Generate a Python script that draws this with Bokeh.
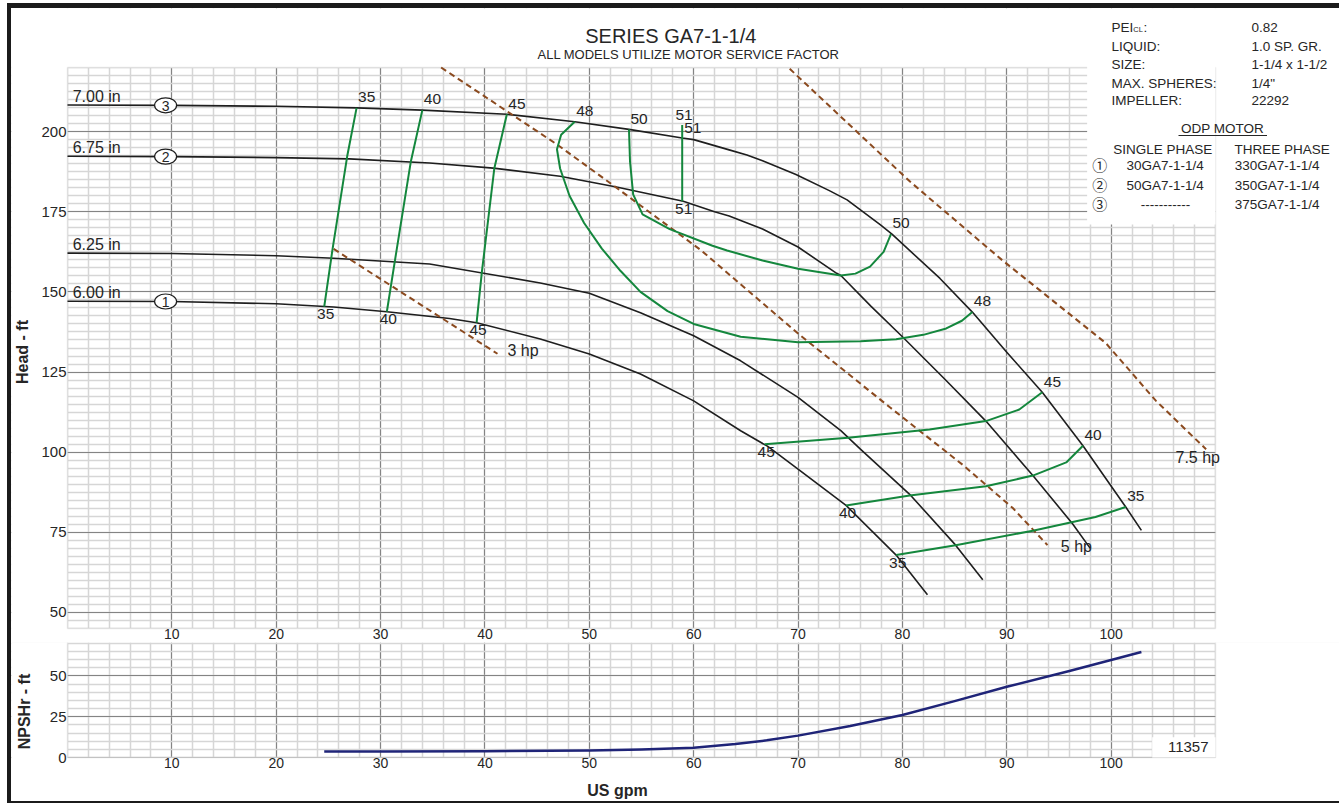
import numpy as np
from bokeh.plotting import figure
from bokeh.models import (FixedTicker, BoxAnnotation, Range1d, Div, Spacer)
from bokeh.layouts import column, row
from bokeh.embed import file_html
from bokeh.resources import INLINE
from bokeh.core.properties import value

FONT = "Liberation Sans"
CJK = "Noto Sans CJK JP"

# ---------------- data ----------------
x_ticks = [10, 20, 30, 40, 50, 60, 70, 80, 90, 100]
head_ticks = [50, 75, 100, 125, 150, 175, 200]
npsh_ticks = [0, 25, 50]

diam_labels = ["7.00 in", "6.75 in", "6.25 in", "6.00 in"]
diam_marks = ["3", "2", None, "1"]

gpm_700 = [0, 10, 20, 27.7, 34.0, 42.1, 48.6, 53.8, 58.9, 60.0, 63.4, 65.1, 66.6, 69.8,
           73.0, 74.7, 77.9, 79.0, 83.6, 86.7, 90.0, 93.4, 97.3, 101.4, 102.9]
head_700 = [208.3, 208.2, 207.9, 207.4, 206.7, 205.4, 203.1, 200.7, 198.0, 197.5, 194.3,
            192.7, 190.9, 186.6, 181.6, 178.7, 170.9, 168.0, 154.2, 143.7, 131.2, 118.7,
            102.0, 82.9, 75.6]
gpm_675 = [0, 10, 20, 27.0, 34.7, 40.8, 47.2, 52.6, 59.0, 62.0, 63.4, 66.6, 70.0, 73.7,
           74.1, 77.0, 80.0, 84.0, 88.0, 92.5, 96.3, 98.0]
head_675 = [192.3, 192.2, 191.9, 191.5, 190.2, 188.6, 186.1, 182.7, 178.3, 175.0, 173.7,
            169.6, 164.0, 155.8, 155.1, 145.5, 136.0, 123.0, 109.7, 92.7, 77.7, 70.0]
gpm_625 = [0, 10, 20, 25.5, 34.7, 45.3, 50.0, 54.9, 60.0, 64.5, 70.0, 74.1, 76.0, 80.8,
           85.1, 87.7]
head_625 = [162.1, 162.0, 161.3, 160.5, 158.7, 152.8, 149.6, 143.5, 136.3, 128.5, 117.1,
            106.7, 100.9, 86.5, 71.0, 60.2]
gpm_600 = [0, 10, 20, 25.5, 30.6, 36.6, 39.2, 45.3, 50.0, 54.9, 60.0, 64.5, 67.1, 70.0,
           74.6, 79.4, 82.4]
head_600 = [147.1, 147.0, 146.3, 145.3, 143.8, 141.7, 140.4, 135.3, 130.6, 124.4, 116.0,
            106.7, 101.8, 94.7, 83.4, 67.9, 55.5]

# efficiency contours (%)
eff35a_gpm = [24.6, 25.4, 26.8, 27.7]
eff35a_head = [145.4, 163.4, 192.3, 207.4]
eff40a_gpm = [30.6, 31.4, 32.9, 34.0]
eff40a_head = [143.8, 160.3, 190.7, 206.7]
eff45a_gpm = [39.2, 39.7, 40.9, 42.1]
eff45a_head = [140.4, 156.1, 188.6, 205.4]
eff48_gpm = [48.6, 47.3, 46.9, 47.2, 48.1, 49.5, 51.2, 53.0, 54.9, 57.5, 60.0, 64.5, 70.0,
             76.0, 79.4, 82.0, 84.2, 85.7, 86.7]
eff48_head = [203.1, 199.0, 194.5, 188.5, 180.0, 171.5, 163.5, 156.5, 150.0, 144.0, 140.0,
              136.0, 134.3, 134.6, 135.2, 136.6, 138.6, 141.0, 143.7]
eff50_gpm = [53.8, 53.9, 54.2, 55.1, 57.7, 61.8, 63.2, 66.6, 70.0, 74.1, 75.5, 76.9, 78.2, 78.9]
eff50_head = [200.7, 190.7, 180.4, 174.2, 169.6, 164.4, 162.9, 159.8, 157.2, 155.1, 155.7,
              157.9, 162.5, 168.0]
eff51_gpm = [58.9, 58.9]
eff51_head = [178.3, 202.1]
eff45b_gpm = [66.8, 74.8, 82.6, 88.0, 91.2, 93.4]
eff45b_head = [102.5, 104.5, 107.1, 109.7, 113.3, 118.7]
eff40b_gpm = [74.6, 80.7, 88.0, 92.5, 95.7, 97.3]
eff40b_head = [83.4, 86.5, 89.4, 92.7, 96.8, 102.0]
eff35b_gpm = [79.4, 85.1, 92.5, 98.5, 101.4]
eff35b_head = [67.9, 71.0, 75.5, 79.8, 82.9]

# motor power limits
hp3_gpm = [25.5, 41.2]
hp3_head = [163.4, 130.7]
hp5_gpm = [35.8, 46.9, 52.6, 60.7, 70.0, 78.8, 85.8, 90.6, 93.9]
hp5_head = [220.0, 196.0, 182.5, 163.0, 137.0, 114.0, 96.0, 82.5, 71.0]
hp75_gpm = [69.2, 80.7, 83.1, 89.6, 99.5, 104.3, 109.1]
hp75_head = [219.6, 184.5, 177.8, 159.8, 134.0, 116.0, 100.9]
hp_labels = ["3 hp", "5 hp", "7.5 hp"]

# NPSHr
npsh_gpm = [24.6, 30, 40, 50, 55, 60, 64, 67, 70, 75, 80, 85, 90, 96, 102.9]
npsh_ft = [3.7, 3.7, 3.8, 4.3, 4.9, 5.9, 8.2, 10.5, 13.4, 19.3, 26.0, 34.5, 43.3, 53.0, 64.6]

# texts
title_text = "SERIES GA7-1-1/4"
subtitle_text = "ALL MODELS UTILIZE MOTOR SERVICE FACTOR"
info_keys = ["LIQUID:", "SIZE:", "MAX. SPHERES:", "IMPELLER:"]
info_vals = ["0.82", "1.0 SP. GR.", "1-1/4 x 1-1/2", "1/4\"", "22292"]
model_marks = ["\u2460", "\u2461", "\u2462"]
models_single = ["30GA7-1-1/4", "50GA7-1-1/4", "-----------"]
models_three = ["330GA7-1-1/4", "350GA7-1-1/4", "375GA7-1-1/4"]
drawing_no = "11357"

# ---------------- page geometry (pixels) ----------------
FIG_L, FIG_R = 11, 1339          # canvas of both figures
CH_L, CH_R = 67, 1215            # chart area, x
H_TOP, H_BOT = 67, 628           # head chart area, y
F1_TOP, F1_BOT = 8, 642          # head figure canvas
N_TOP, N_BOT = 642.7, 757        # npsh chart area
F2_BOT = 801

K = (CH_R - CH_L) / 110.0        # px per gpm
M = (H_BOT - H_TOP) / 175.0      # px per ft of head
N = (N_BOT - N_TOP) / 70.0       # px per ft of NPSHr


def gx(px):
    return (px - CH_L) / K


def hy(py):
    return 220 + (H_TOP - py) / M


def ny(py):
    return (N_BOT - py) / N


# ---------------- styles ----------------
BLACK = "#1e1e1e"
GREEN = "#14873d"
BROWN = "#8b4a1f"
NAVY = "#1f2478"
TXT = "#262626"
MAJ = "#848484"
MINR = "#d6d6d6"
INFO = "13.5px"


def txt(fig, xs, ys, texts, size="14px", align="left", font=FONT, style="normal",
        angle=0.0, xo=0, yo=0):
    # y is the visual middle of the text
    fig.text(x=xs, y=ys, text=texts, text_font=value(font), text_font_size=size,
             text_color=TXT, text_align=align, text_baseline="middle",
             text_font_style=style, angle=angle, x_offset=xo, y_offset=yo)


def mask(fig, **kw):
    fig.add_layout(BoxAnnotation(fill_color="white", fill_alpha=1.0, line_color=None,
                                 level="underlay", **kw))


def style(fig, yticks, yminor, xfix, yfix):
    fig.outline_line_color = None
    xt = FixedTicker(ticks=x_ticks, minor_ticks=list(np.arange(0, 110.1, 2)))
    yt = FixedTicker(ticks=yticks, minor_ticks=yminor)
    fig.xaxis.ticker = xt
    fig.xgrid.ticker = xt
    fig.yaxis.ticker = yt
    fig.ygrid.ticker = yt
    fig.xaxis.fixed_location = xfix
    fig.yaxis.fixed_location = yfix
    for g in [fig.xgrid, fig.ygrid]:
        g.grid_line_color = MAJ
        g.grid_line_width = 1.1
        g.minor_grid_line_color = MINR
        g.minor_grid_line_width = 1.5
    for ax in list(fig.xaxis) + list(fig.yaxis):
        ax.axis_line_color = None
        ax.major_tick_line_color = None
        ax.minor_tick_line_color = None
        ax.major_tick_out = 0
        ax.minor_tick_out = 0
        ax.major_tick_in = 0
        ax.minor_tick_in = 0
        ax.major_label_text_font = FONT
        ax.major_label_text_color = TXT
    fig.xaxis.major_label_text_font_size = "14px"
    fig.xaxis.major_label_standoff = 0
    fig.yaxis.major_label_text_font_size = "15px"
    fig.yaxis.major_label_standoff = 1


xr = Range1d(gx(FIG_L), gx(FIG_R))

# ---------------- head chart ----------------
p = figure(width=FIG_R - FIG_L, height=F1_BOT - F1_TOP, x_range=xr,
           y_range=Range1d(hy(F1_BOT), hy(F1_TOP)),
           output_backend="svg", toolbar_location=None, min_border=0)
style(p, head_ticks, list(np.arange(45, 220.1, 2.5)), 45, 0)

# white surround (hides the grid outside the chart area) + chart border
mask(p, right=0)
mask(p, left=110)
mask(p, bottom=220)
mask(p, top=45)
p.add_layout(BoxAnnotation(left=0, right=110, bottom=45, top=220, fill_alpha=0,
                           line_color="#c4c4c4", line_width=1.5, level="underlay"))
mask(p, left=97.7, bottom=171.0, right=110, top=220.5)

curves = [(gpm_700, head_700), (gpm_675, head_675), (gpm_625, head_625), (gpm_600, head_600)]
for g, h in curves:
    p.line(g, h, line_color=BLACK, line_width=1.6, line_join="round")

hp_lines = [(hp3_gpm, hp3_head), (hp5_gpm, hp5_head), (hp75_gpm, hp75_head)]
for g, h in hp_lines:
    p.line(g, h, line_color=BROWN, line_width=2, line_dash="6 4")

eff_lines = [("35", eff35a_gpm, eff35a_head), ("40", eff40a_gpm, eff40a_head),
             ("45", eff45a_gpm, eff45a_head), ("48", eff48_gpm, eff48_head),
             ("50", eff50_gpm, eff50_head), ("51", eff51_gpm, eff51_head),
             ("45", eff45b_gpm, eff45b_head), ("40", eff40b_gpm, eff40b_head),
             ("35", eff35b_gpm, eff35b_head)]
for name, g, h in eff_lines:
    p.line(g, h, line_color=GREEN, line_width=2, line_join="round")

# diameter labels
txt(p, [0.5] * 4, [c[1][0] for c in curves], diam_labels, size="16px", yo=-9)

# circled curve numbers
mx, my, mt = [], [], []
for (g, h), m in zip(curves, diam_marks):
    if m is None:
        continue
    mx.append(9.4)
    my.append(float(np.interp(9.4, g, h)))
    mt.append(m)
p.ellipse(x=mx, y=my, width=22, height=15, width_units="screen", height_units="screen",
          fill_color="white", line_color=BLACK, line_width=1.2)
txt(p, mx, my, mt, size="14px", align="center", yo=0.5)

# efficiency labels
end_x, end_y, end_t = [], [], []
start_x, start_y, start_t = [], [], []
for name, g, h in eff_lines:
    if name == "51":
        continue
    end_x.append(g[-1]); end_y.append(h[-1]); end_t.append(name)
    if name in ("48", "50"):
        end_x.append(g[0]); end_y.append(h[0]); end_t.append(name)
    else:
        start_x.append(g[0]); start_y.append(h[0]); start_t.append(name)
start_x.append(eff51_gpm[0]); start_y.append(eff51_head[0]); start_t.append("51")
EFS = "15.5px"
txt(p, end_x, end_y, end_t, size=EFS, xo=1.5, yo=-10.7)
txt(p, start_x, start_y, start_t, size=EFS, align="center", xo=1.5, yo=7.6)
txt(p, [eff51_gpm[-1]], [eff51_head[-1]], ["51"], size=EFS, xo=-6.7, yo=-10.3)
txt(p, [eff51_gpm[-1]], [eff51_head[-1]], ["51"], size=EFS, xo=2, yo=2.7)

# horsepower labels
hp_off = [(10, -3.3), (13.4, 1.6), (-30.6, 8.3)]
for (g, h), t, (xo, yo) in zip(hp_lines, hp_labels, hp_off):
    txt(p, [g[-1]], [h[-1]], [t], size="16px", xo=xo, yo=yo)

# axis title
txt(p, [gx(22)], [hy(351.5)], ["Head - ft"], size="16px", align="center",
    style="bold", angle=np.pi / 2)

# titles
txt(p, [gx(670.3)], [hy(35.8)], [title_text], size="20px", align="center")
txt(p, [gx(688)], [hy(53.8)], [subtitle_text], size="13px", align="center")

# info table
row_py = [27, 45.8, 64.2, 82.5, 100.2]
txt(p, [gx(1111)], [hy(row_py[0])], ["PEI"], size=INFO)
txt(p, [gx(1132.8)], [hy(row_py[0] + 2.2)], ["CL"], size="7.5px")
txt(p, [gx(1143)], [hy(row_py[0])], [":"], size=INFO)
txt(p, [gx(1111)] * 4, [hy(v) for v in row_py[1:]], info_keys, size=INFO)
txt(p, [gx(1251)] * 5, [hy(v) for v in row_py], info_vals, size=INFO)
txt(p, [gx(1222)], [hy(128)], ["ODP MOTOR"], size=INFO, align="center")
p.add_layout(BoxAnnotation(left=gx(1178), right=gx(1266.5), bottom=hy(135.6), top=hy(134.5),
                           fill_color=TXT, fill_alpha=1.0, line_color=None))
txt(p, [gx(1112.7)], [hy(148.7)], ["SINGLE PHASE"], size=INFO)
txt(p, [gx(1234)], [hy(148.7)], ["THREE PHASE"], size=INFO)
model_py = [164.7, 184.7, 203.8]
txt(p, [gx(1099.3)] * 3, [hy(v - 0.5) for v in model_py], model_marks, size="15px",
    align="center", font=CJK)
txt(p, [gx(1126)] * 2, [hy(v) for v in model_py[:2]], models_single[:2], size=INFO)
txt(p, [gx(1165)], [hy(model_py[2])], models_single[2:], size=INFO, align="center")
txt(p, [gx(1234.3)] * 3, [hy(v) for v in model_py], models_three, size=INFO)

# ---------------- NPSHr chart ----------------
p2 = figure(width=FIG_R - FIG_L, height=F2_BOT - F1_BOT, x_range=xr,
            y_range=Range1d(ny(F2_BOT), ny(F1_BOT)),
            output_backend="svg", toolbar_location=None, min_border=0)
style(p2, npsh_ticks, list(np.arange(0, 70.1, 5)), 0, 0)
mask(p2, right=0)
mask(p2, left=110)
mask(p2, bottom=70)
mask(p2, top=0)
p2.add_layout(BoxAnnotation(left=0, right=110, bottom=0, top=70, fill_alpha=0,
                            line_color="#c4c4c4", line_width=1.5, level="underlay"))
mask(p2, left=gx(1151.7), right=110, bottom=0, top=ny(736.7))

p2.line(npsh_gpm, npsh_ft, line_color=NAVY, line_width=2.5, line_join="round")
txt(p2, [gx(1187.7)], [ny(746.7)], [drawing_no], size="15px", align="center")
txt(p2, [gx(617)], [ny(790)], ["US gpm"], size="16px", align="center", style="bold")
txt(p2, [gx(24)], [ny(711)], ["NPSHr - ft"], size="16px", align="center",
    style="bold", angle=np.pi / 2)

# ---------------- frame bars & layout ----------------
BAR = "#1b1b1b"
W_ALL = FIG_R - 7
top_bar = Div(text="", width=W_ALL, height=5, margin=0, styles={"background-color": BAR})
left_bar = Div(text="", width=4, height=F2_BOT - F1_TOP, margin=0,
               styles={"background-color": BAR})
bottom_bar = Div(text="", width=W_ALL, height=2, margin=0, styles={"background-color": BAR})

inner = column(top_bar, row(left_bar, column(p, p2, spacing=0), spacing=0), bottom_bar,
               spacing=0)
layout = column(Spacer(height=3, width=10), row(Spacer(width=7, height=10), inner, spacing=0),
                spacing=0)

open("out.html", "w").write(file_html(layout, INLINE))
